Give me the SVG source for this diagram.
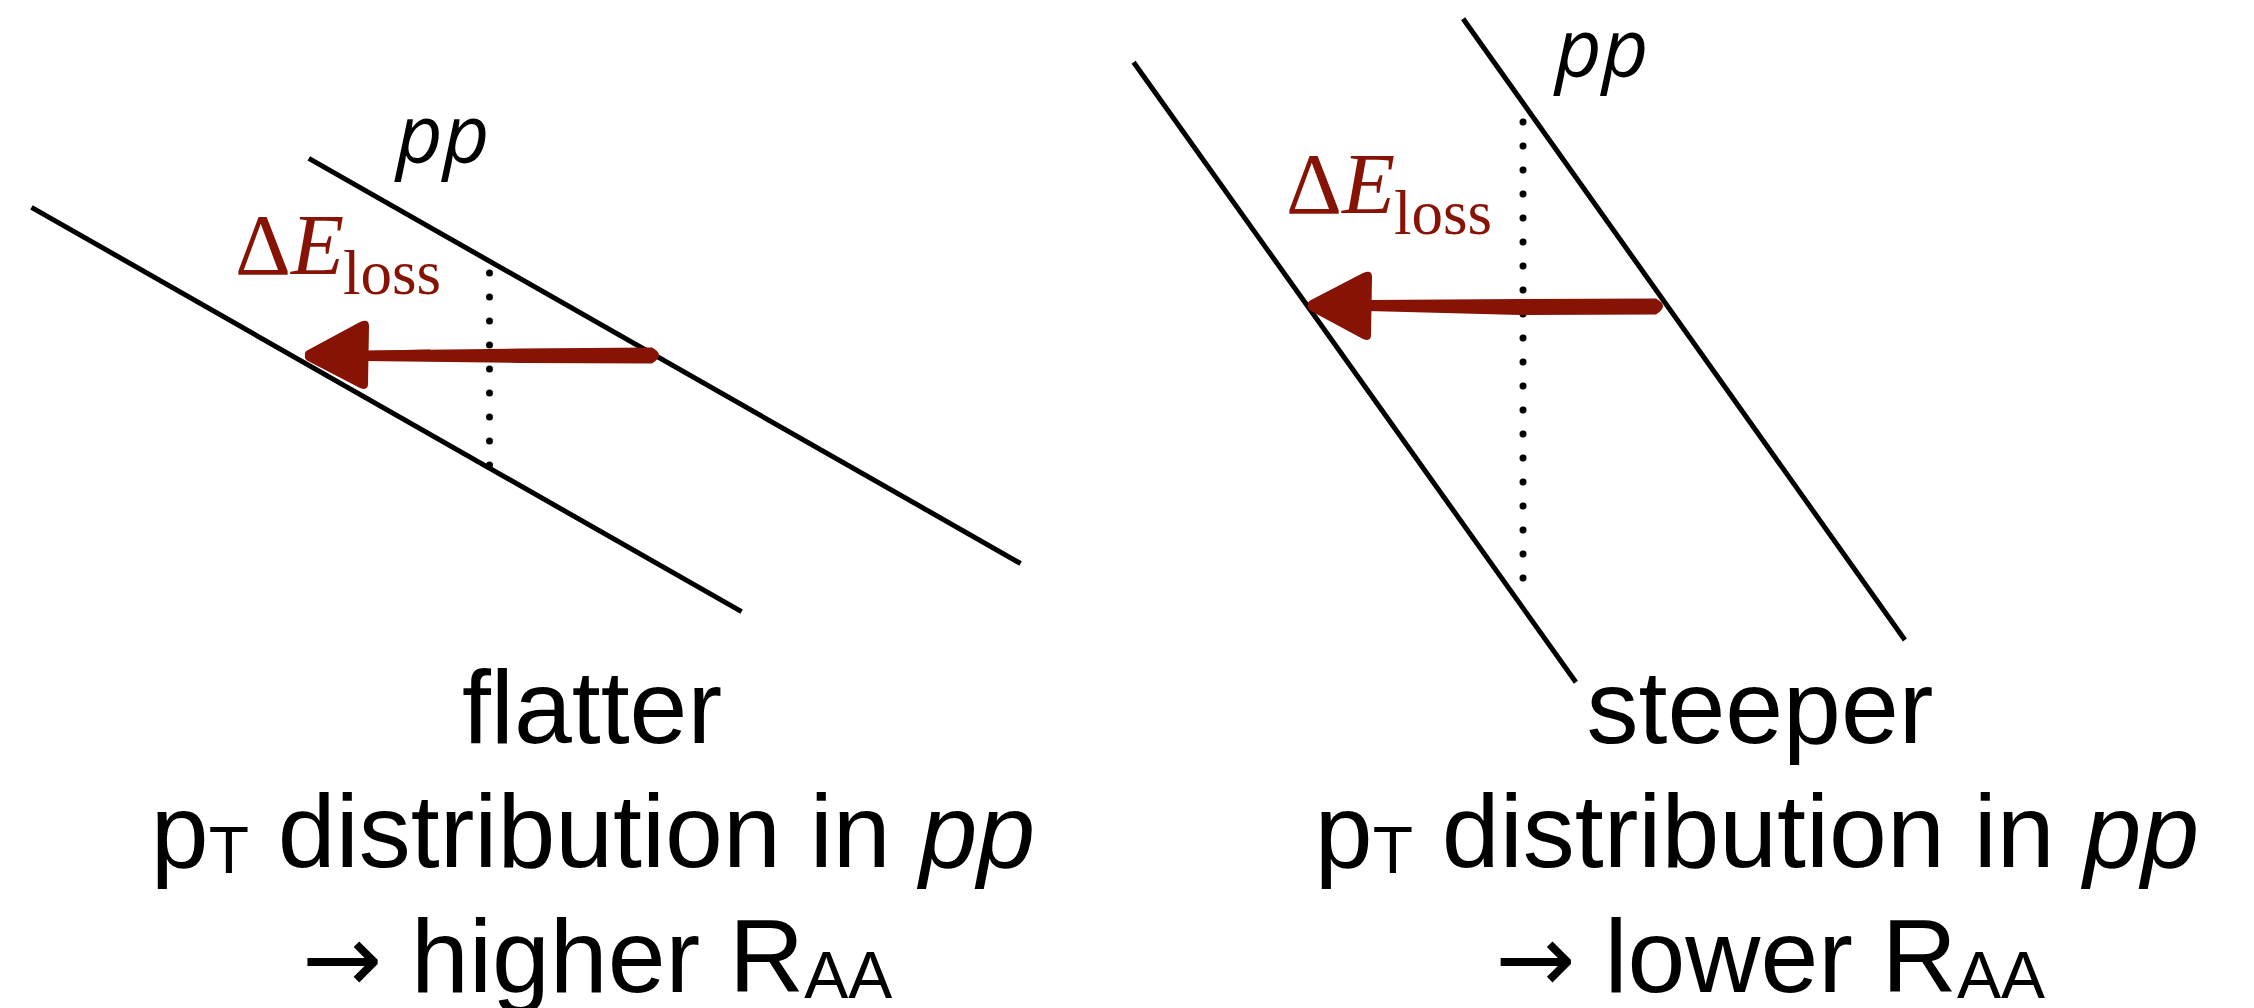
<svg xmlns="http://www.w3.org/2000/svg" width="2254" height="1008" viewBox="0 0 2254 1008">
<style>
.ln{stroke:#000;stroke-width:5;fill:none;stroke-linecap:butt}
.dot{stroke:#000;stroke-width:7;stroke-linecap:round;stroke-dasharray:0 24;fill:none}
.pp{font-family:"Open Sans","Noto Sans",sans-serif;font-style:italic;font-size:81px;fill:#000}
.de{font-family:"Liberation Serif","Times New Roman",serif;font-size:87px;fill:#871305}
.sub{font-size:63px}
.cap{font-family:"Liberation Sans",Arial,sans-serif;font-size:104px;fill:#000;text-anchor:middle}
.arr{font-family:"DejaVu Sans",sans-serif;font-size:96px}
.brush{fill:#871305}
.streak{stroke:#871305;stroke-width:1.5;fill:none;opacity:0.7}
</style>
<rect width="2254" height="1008" fill="#fff"/>
<g id="left-panel">
  <g id="left-lines">
    <line class="ln" x1="31.5" y1="207.3" x2="741.6" y2="611.7"/>
    <line class="ln" x1="308.8" y1="158.3" x2="1020.6" y2="563.5"/>
    <line class="dot" x1="489.5" y1="273" x2="489.5" y2="466"/>
  </g>
  <text id="left-pp" class="pp" x="396" y="163">pp</text>
  <text id="left-deloss" class="de" x="235" y="274">Δ<tspan font-style="italic">E</tspan><tspan class="sub" x="343" y="294">loss</tspan></text>
  <g id="left-arrow">
    <path class="brush" d="M364,350.5 L520,348.5 L652,347.5 Q666,355 652,363.5 L520,363 L364,361 Z"/>
    <path class="streak" d="M360,352 L430,350 M360,359 L440,360.5 M368,355.5 L470,355"/>
    <path class="brush" d="M305,355 Q304,352 308,350 L360,322 Q369,318 369,326 L368,384 Q368,391 360,388 L308,361 Q304,359 305,355 Z"/>
  </g>
  <g id="left-caption">
    <text class="cap" x="592" y="743">flatter</text>
    <text class="cap" x="593" y="867">p<tspan font-size="66" dy="6">T</tspan><tspan dy="-6"> distribution in </tspan><tspan font-style="italic">pp</tspan></text>
    <text class="cap" x="597" y="992"><tspan class="arr">→</tspan> higher R<tspan font-size="66" dy="6">AA</tspan></text>
  </g>
</g>
<g id="right-panel">
  <g id="right-lines">
    <line class="ln" x1="1133.6" y1="62.2" x2="1575.9" y2="682.2"/>
    <line class="ln" x1="1463.1" y1="18.7" x2="1904.9" y2="640"/>
    <line class="dot" x1="1523" y1="122" x2="1523" y2="579"/>
  </g>
  <text id="right-pp" class="pp" x="1555" y="77">pp</text>
  <text id="right-deloss" class="de" x="1286" y="213">Δ<tspan font-style="italic">E</tspan><tspan class="sub" x="1394" y="234">loss</tspan></text>
  <g id="right-arrow">
    <path class="brush" d="M1368,300 L1520,299 L1656,298.5 Q1670,306 1656,314.5 L1520,315 L1368,311 Z"/>
    <path class="streak" d="M1364,302 L1440,301 M1364,309 L1450,310.5 M1373,306 L1480,305.5"/>
    <path class="brush" d="M1308,305 Q1307,302 1311,300 L1363,273 Q1372,269 1372,277 L1371,335 Q1371,342 1363,339 L1311,311 Q1307,309 1308,305 Z"/>
  </g>
  <g id="right-caption">
    <text class="cap" x="1760" y="743">steeper</text>
    <text class="cap" x="1757" y="867">p<tspan font-size="66" dy="6">T</tspan><tspan dy="-6"> distribution in </tspan><tspan font-style="italic">pp</tspan></text>
    <text class="cap" x="1770" y="992"><tspan class="arr">→</tspan> lower R<tspan font-size="66" dy="6">AA</tspan></text>
  </g>
</g>
</svg>
